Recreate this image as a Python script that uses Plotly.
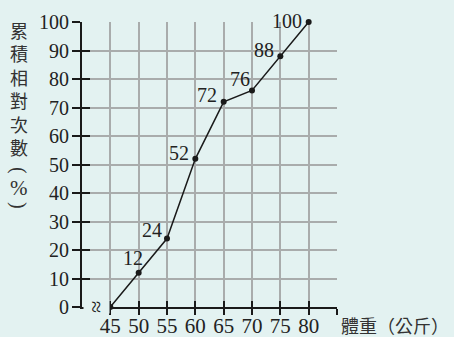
import plotly.graph_objects as go

weights = [45, 50, 55, 60, 65, 70, 75, 80]
cum_pct = [0, 12, 24, 52, 72, 76, 88, 100]
point_labels = ["", "12", "24", "52", "72", "76", "88", "100"]
label_offsets = [(0, 0), (-6, 15), (-15, 9), (-16, 6), (-17, 7), (-12, 11), (-16, 6), (-22, 1)]
x_ticks = [45, 50, 55, 60, 65, 70, 75, 80, 85]
x_ticktext = ["45", "50", "55", "60", "65", "70", "75", "80", ""]
y_ticks = [0, 10, 20, 30, 40, 50, 60, 70, 80, 90, 100]

BG = "#e3f2f1"
SERIF = "Liberation Serif, Times New Roman, serif"
CJK = "Noto Sans CJK TC"

fig = go.Figure()
fig.add_trace(go.Scatter(
    x=weights, y=cum_pct, mode="lines+markers",
    line=dict(color="#1a1a1a", width=1.5),
    marker=dict(color="#1a1a1a", size=6),
    cliponaxis=False, showlegend=False, hoverinfo="skip",
))
# invisible trace to activate overlay axes
fig.add_trace(go.Scatter(x=[weights[0]], y=[0], xaxis="x2", yaxis="y2",
                         mode="markers", marker=dict(opacity=0), showlegend=False, hoverinfo="skip"))

annotations = []
for xv, yv, t, (dx, dy) in zip(weights, cum_pct, point_labels, label_offsets):
    if t:
        annotations.append(dict(x=xv, y=yv, xref="x", yref="y", text=t, showarrow=False,
                                xanchor="center", yanchor="middle", xshift=dx, yshift=dy,
                                font=dict(family=SERIF, size=20, color="#222")))

W, H = 454, 337
L, R, T, B = 82, 117, 22, 30
pw, ph = W - L - R, H - T - B

def px(xp):
    return (xp - L) / pw

def py(yp):
    return (H - B - yp) / ph

# break symbol on x axis
annotations.append(dict(x=px(97), y=py(307), xref="paper", yref="paper", text="≈", textangle=90,
                        showarrow=False, xanchor="center", yanchor="middle",
                        font=dict(family=SERIF, size=22, color="#222"), bgcolor=BG, borderpad=0))
# y title
annotations.append(dict(x=px(19), y=py(15), xref="paper", yref="paper",
                        text="累<br>積<br>相<br>對<br>次<br>數", showarrow=False,
                        xanchor="center", yanchor="top", align="center",
                        font=dict(family=CJK, size=18, color="#333")))
annotations.append(dict(x=px(19), y=py(170), xref="paper", yref="paper", text="(",
                        textangle=90, showarrow=False, xanchor="center", yanchor="middle",
                        font=dict(family=SERIF, size=20, color="#333")))
annotations.append(dict(x=px(19), y=py(188), xref="paper", yref="paper", text="%",
                        showarrow=False, xanchor="center", yanchor="middle",
                        font=dict(family=SERIF, size=21, color="#333")))
annotations.append(dict(x=px(19), y=py(205), xref="paper", yref="paper", text=")",
                        textangle=90, showarrow=False, xanchor="center", yanchor="middle",
                        font=dict(family=SERIF, size=20, color="#333")))
# x title
annotations.append(dict(x=px(339), y=py(325), xref="paper", yref="paper", text="體重（公斤）",
                        showarrow=False, xanchor="left", yanchor="middle",
                        font=dict(family=CJK, size=18, color="#333")))

fig.update_layout(
    width=W, height=H,
    margin=dict(l=L, r=R, t=T, b=B, pad=0, autoexpand=False),
    paper_bgcolor=BG, plot_bgcolor=BG,
    showlegend=False,
    annotations=annotations,
    xaxis=dict(range=[40, 85], tickmode="array", tickvals=x_ticks, ticktext=x_ticktext,
               automargin=False, ticklabelstandoff=-7,
               showgrid=True, gridcolor="#a9acac", gridwidth=1.5, zeroline=False,
               showline=True, linecolor="#1a1a1a", linewidth=2,
               ticks="outside", ticklen=6, tickwidth=2, tickcolor="#1a1a1a",
               tickfont=dict(family=SERIF, size=21, color="#222"), fixedrange=True),
    yaxis=dict(range=[0, 100], tickmode="array", tickvals=y_ticks,
               automargin=False, ticklabelstandoff=-1,
               showgrid=True, gridcolor="#a9acac", gridwidth=1.5, zeroline=False,
               showline=True, linecolor="#1a1a1a", linewidth=2,
               ticks="outside", ticklen=8, tickwidth=2, tickcolor="#1a1a1a",
               tickfont=dict(family=SERIF, size=20, color="#222"), fixedrange=True),
    xaxis2=dict(range=[40, 85], overlaying="x", tickmode="array", tickvals=x_ticks[:-1],
                automargin=False,
                showgrid=False, zeroline=False, showline=False, showticklabels=False,
                ticks="inside", ticklen=6, tickwidth=2, tickcolor="#1a1a1a", fixedrange=True),
    yaxis2=dict(range=[0, 100], overlaying="y", tickmode="array", tickvals=y_ticks[1:],
                automargin=False,
                showgrid=False, zeroline=False, showline=False, showticklabels=False,
                ticks="inside", ticklen=8, tickwidth=2, tickcolor="#1a1a1a", fixedrange=True),
)

fig.write_html(
    "out.html",
    config={"displayModeBar": False},
    post_script="document.body.style.margin='0';document.body.style.overflow='hidden';"
                "document.body.style.background='" + BG + "';",
)
